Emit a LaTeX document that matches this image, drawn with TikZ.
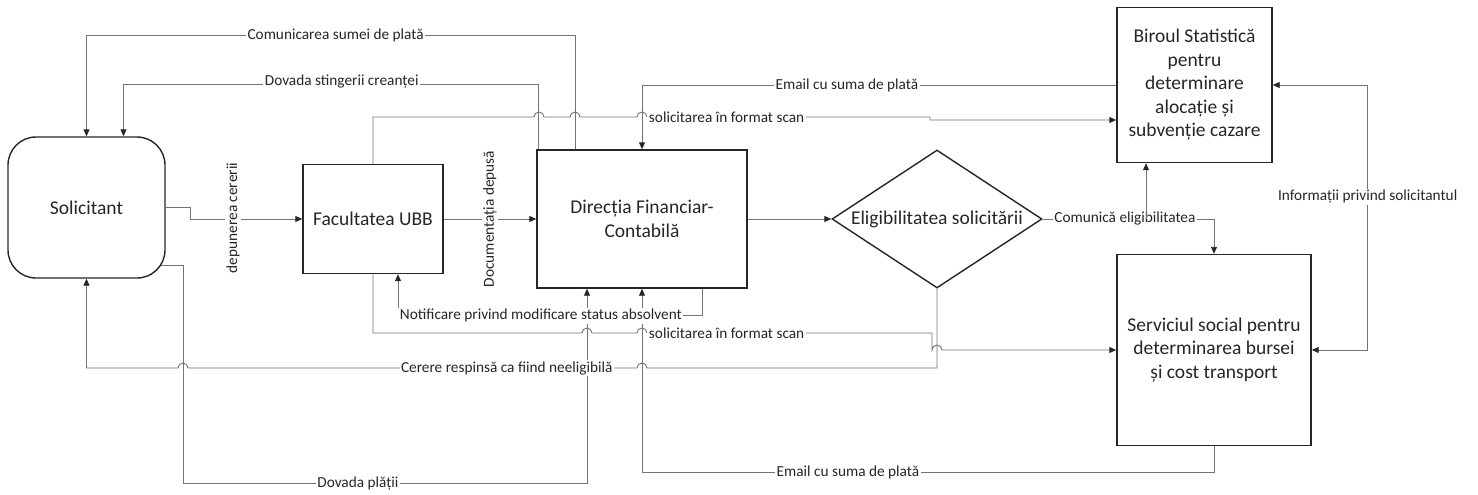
\documentclass[tikz,border=0pt]{standalone}
\usepackage{fontspec}
\setmainfont{Carlito}
\usepackage{tikz}
\usetikzlibrary{arrows.meta, shapes.geometric}
\tikzset{>={Triangle[length=7pt,width=6pt,color=black!85]}}
\tikzset{
	box/.style={draw=black!85, line width=1.4pt, text=black!85, align=center, font=\fontsize{19.5}{23.5}\selectfont},
	conn/.style={draw=black!55, line width=0.9pt},
	lbl/.style={fill=white, text=black!85, inner sep=1.5pt, font=\fontsize{15.3}{18}\selectfont},
}

\begin{document}
\begin{tikzpicture}[x=1pt, y=-1pt]
	\useasboundingbox (0,0) rectangle (1478,495);

	\node[box, rounded corners=28pt, minimum width=157pt, minimum height=141pt] (sol) at (86.5,207.5) {Solicitant};
	\node[box, minimum width=140pt, minimum height=109pt] (fac) at (373,219) {Facultatea UBB};
	\node[box, minimum width=210pt, minimum height=138pt] (dfc) at (642,219) {Direcția Financiar-\\Contabilă};
	\node[box, diamond, aspect=1.52, inner sep=0pt, minimum width=210pt, minimum height=138pt] (elig) at (937,219) {Eligibilitatea solicitării};
	\node[box, minimum width=155pt, minimum height=155pt] (bir) at (1194.5,85) {Biroul Statistică\\pentru\\determinare\\alocație și\\subvenție cazare};
	\node[box, minimum width=194pt, minimum height=191pt] (ser) at (1214,350) {Serviciul social pentru\\determinarea bursei\\și cost transport};

	% lines into Directia from below
	\draw[conn,->] ([xshift=-5pt,yshift=-58pt]sol.east) -- ++(23,0) -- ++(0,218) -| node[lbl,pos=0.216]{Dovada plății} ([xshift=-55pt]dfc.south);
	\draw[conn,->] (ser.south) -- ++(0,26) -| node[lbl,pos=0.32]{Email cu suma de plată} (dfc.south);

	% top
	\draw[conn,->] ([xshift=-67pt]dfc.north) -- ++(0,-114) -| node[lbl,pos=0.245]{Comunicarea sumei de plată} (sol.north);
	\draw[conn,->] ([xshift=2pt]dfc.north west) -- ++(0,-65) -| node[lbl,pos=0.237,yshift=3pt]{Dovada stingerii creanței} ([xshift=37pt]sol.north);
	\draw[conn,->] (bir.west) -| node[lbl,pos=0.284]{Email cu suma de plată} (dfc.north);
	\draw[conn,->] (fac.north) |- (534,117) arc[start angle=180,end angle=0,radius=5pt] -- (570,117) arc[start angle=180,end angle=0,radius=5pt] -- (637,117) arc[start angle=180,end angle=0,radius=5pt] -- node[lbl,pos=0,anchor=west]{solicitarea în format scan} (930,117) -- (930,120) -- ([yshift=-35pt]bir.west);

	% middle row
	\draw[conn,->] (sol.east) -- ++(25,0) |- (fac.west) node[lbl,rotate=90] at (233,218) {depunerea cererii};
	\draw[conn,->] (fac.east) -- node[lbl,rotate=90]{Documentația depusă} (dfc.west);
	\draw[conn,->] (dfc.east) -- (elig.west);
	\draw[conn,->] (elig.east) -| node[lbl,pos=0.24]{Comunică eligibilitatea} (ser.north);
	\coordinate (split) at (1146,219);
	\draw[conn,->] (split) -- (split |- bir.south);
	\draw[conn,<->] (bir.east) -- ++(95,0) |- node[lbl,pos=0.211]{Informații privind solicitantul} (ser.east);

	% bottom
	\draw[conn,->] ([xshift=60pt]dfc.south) -- ++(0,27) -| node[lbl,pos=0.265]{Notificare privind modificare status absolvent} ([xshift=25pt]fac.south);
	\draw[conn,->] (fac.south) |- (582,333) arc[start angle=180,end angle=0,radius=5pt] -- (637,333) arc[start angle=180,end angle=0,radius=5pt] -- node[lbl,pos=0,anchor=west]{solicitarea în format scan} (932,333) -- (932,350) arc[start angle=180,end angle=0,radius=5pt] -- (ser.west);
	\draw[conn,->] (elig.south) |- (647,368) arc[start angle=0,end angle=180,radius=5pt] -- node[lbl,pos=0.29]{Cerere respinsă ca fiind neeligibilă} (188,368) arc[start angle=0,end angle=180,radius=5pt] -| (sol.south);
\end{tikzpicture}
\end{document}
